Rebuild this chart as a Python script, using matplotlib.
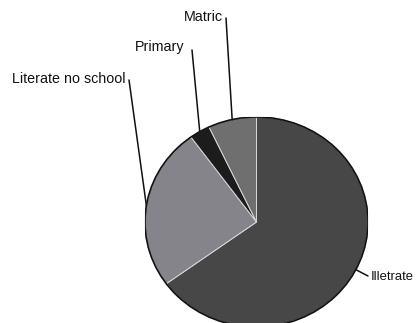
import matplotlib.pyplot as plt
import numpy as np

labels = ["Illetrate", "Literate no school", "Primary", "Matric"]
shares = [65, 25, 3, 7]
colors = ["#474747", "#86848b", "#1c1c1c", "#6f6f6f"]

# label text anchors (figure pixels from top-left) and top of leader line
label_pos = [(371, 277), (126, 79), (184, 47), (223, 17)]
label_ha = ["left", "right", "right", "right"]
label_size = [9.4, 10.3, 10.3, 10.3]
line_top = [(368, 276), (129, 80), (192, 50), (226, 18)]

W, H = 417, 323
fig = plt.figure(figsize=(W / 100, H / 100), dpi=100)
fig.patch.set_facecolor("white")

# pie box in image pixels: x 145..368, y 117..327 (slightly squashed, like the scan)
ax = fig.add_axes([145 / W, (H - 327) / H, 223 / W, 210 / H])
wedges, _ = ax.pie(shares, colors=colors, startangle=90, counterclock=False,
                   radius=1, wedgeprops=dict(edgecolor="#d8d8d8", linewidth=0.7))
ax.set_aspect("auto")
ax.set_xlim(-1, 1)
ax.set_ylim(-1, 1)
ax.axis("off")
ax.add_patch(plt.Circle((0, 0), 1, fill=False, edgecolor="#111111", lw=1.2))

for w, lab, (tx, ty), ha, fs, (lx, ly) in zip(wedges, labels, label_pos, label_ha,
                                                label_size, line_top):
    mid = np.deg2rad((w.theta1 + w.theta2) / 2)
    rim = (np.cos(mid), np.sin(mid))
    ax.annotate("", xy=rim, xycoords="data",
                xytext=(lx, H - ly), textcoords="figure pixels",
                arrowprops=dict(arrowstyle="-", color="#111111", lw=1.1,
                                shrinkA=0, shrinkB=0))
    fig.text(tx / W, 1 - ty / H, lab, ha=ha, va="center",
             fontsize=fs, family="Liberation Sans", color="#111111")

fig.savefig("out.png", dpi=100)
